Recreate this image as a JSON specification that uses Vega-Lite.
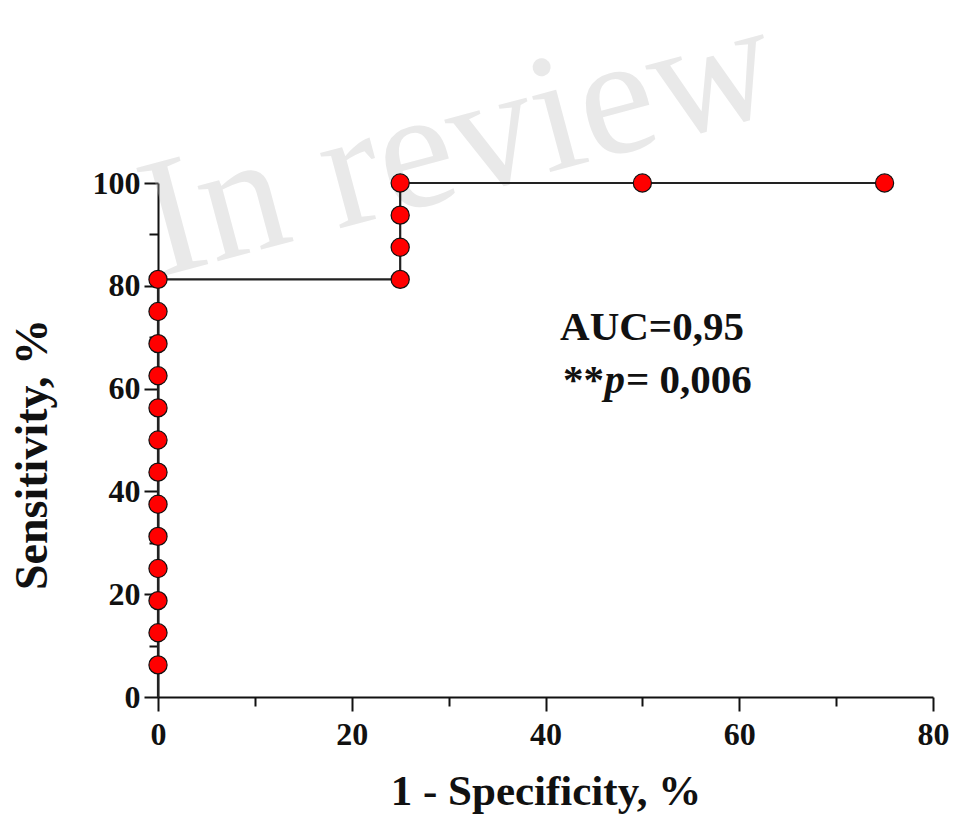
{
  "$schema": "https://vega.github.io/schema/vega-lite/v6.json",
  "width": 775,
  "height": 514,
  "autosize": "none",
  "padding": {"left": 158, "top": 183, "right": 24, "bottom": 123},
  "background": "white",
  "config": {
    "view": {"stroke": null},
    "font": "Liberation Serif",
    "axis": {
      "grid": false,
      "domainColor": "#111111",
      "domainWidth": 2,
      "tickColor": "#111111",
      "tickWidth": 2,
      "tickSize": 14,
      "labelFlush": false,
      "labelFont": "Liberation Serif",
      "labelFontWeight": "bold",
      "labelFontSize": 32,
      "labelColor": "#111111",
      "titleFont": "Liberation Serif",
      "titleFontWeight": "bold",
      "titleColor": "#111111"
    }
  },
  "datasets": {
    "roc": [
      {"fpr": 0, "sens": 0, "shown": false},
      {"fpr": 0, "sens": 6.25, "shown": true},
      {"fpr": 0, "sens": 12.5, "shown": true},
      {"fpr": 0, "sens": 18.75, "shown": true},
      {"fpr": 0, "sens": 25, "shown": true},
      {"fpr": 0, "sens": 31.25, "shown": true},
      {"fpr": 0, "sens": 37.5, "shown": true},
      {"fpr": 0, "sens": 43.75, "shown": true},
      {"fpr": 0, "sens": 50, "shown": true},
      {"fpr": 0, "sens": 56.25, "shown": true},
      {"fpr": 0, "sens": 62.5, "shown": true},
      {"fpr": 0, "sens": 68.75, "shown": true},
      {"fpr": 0, "sens": 75, "shown": true},
      {"fpr": 0, "sens": 81.25, "shown": true},
      {"fpr": 25, "sens": 81.25, "shown": true},
      {"fpr": 25, "sens": 87.5, "shown": true},
      {"fpr": 25, "sens": 93.75, "shown": true},
      {"fpr": 25, "sens": 100, "shown": true},
      {"fpr": 50, "sens": 100, "shown": true},
      {"fpr": 75, "sens": 100, "shown": true}
    ]
  },
  "layer": [
    {
      "data": {"values": [{"label": "In review"}]},
      "mark": {"type": "text", "font": "Liberation Serif", "fontSize": 170, "angle": -15, "color": "#bdbdbd", "opacity": 0.33, "align": "center", "baseline": "middle"},
      "encoding": {
        "text": {"field": "label"},
        "x": {"datum": 31.0, "type": "quantitative", "scale": {"domain": [0, 80], "nice": false}, "axis": null},
        "y": {"datum": 107.6, "type": "quantitative", "scale": {"domain": [0, 100], "nice": false}, "axis": null}
      }
    },
    {
      "data": {"name": "roc"},
      "mark": {"type": "line", "color": "#222222", "strokeWidth": 2.2, "interpolate": "linear"},
      "encoding": {
        "x": {"field": "fpr", "type": "quantitative", "scale": {"domain": [0, 80], "nice": false},
              "axis": {"orient": "bottom", "values": [0, 20, 40, 60, 80], "title": "1 - Specificity, %", "titleFontSize": 43, "labelPadding": 8, "titlePadding": 20}},
        "y": {"field": "sens", "type": "quantitative", "scale": {"domain": [0, 100], "nice": false},
              "axis": {"orient": "left", "values": [0, 20, 40, 60, 80, 100], "title": "Sensitivity, %", "titleFontSize": 46, "titleY": 271, "labelPadding": 4, "titlePadding": 36}}
      }
    },
    {
      "data": {"name": "roc"},
      "transform": [{"filter": "datum.shown"}],
      "mark": {"type": "point", "filled": true, "shape": "circle", "size": 330, "fill": "#ff0000", "stroke": "#111111", "strokeWidth": 1.2, "opacity": 1},
      "encoding": {
        "x": {"field": "fpr", "type": "quantitative", "scale": {"domain": [0, 80], "nice": false},
              "axis": {"orient": "bottom", "values": [10, 30, 50, 70], "tickSize": 9, "labels": false, "domain": false, "title": null}},
        "y": {"field": "sens", "type": "quantitative", "scale": {"domain": [0, 100], "nice": false},
              "axis": {"orient": "left", "values": [10, 30, 50, 70, 90], "tickSize": 9, "labels": false, "domain": false, "title": null}}
      }
    },
    {
      "data": {"values": [{"label": "AUC=0,95"}]},
      "mark": {"type": "text", "font": "Liberation Serif", "fontWeight": "bold", "fontSize": 41, "color": "#111111", "align": "left", "baseline": "alphabetic"},
      "encoding": {
        "text": {"field": "label"},
        "x": {"datum": 41.5, "type": "quantitative", "scale": {"domain": [0, 80], "nice": false}, "axis": null},
        "y": {"datum": 69.5, "type": "quantitative", "scale": {"domain": [0, 100], "nice": false}, "axis": null}
      }
    },
    {
      "data": {"values": [{"label": "**"}]},
      "mark": {"type": "text", "font": "Liberation Serif", "fontWeight": "bold", "fontSize": 41, "color": "#111111", "align": "left", "baseline": "alphabetic"},
      "encoding": {
        "text": {"field": "label"},
        "x": {"datum": 41.8, "type": "quantitative", "scale": {"domain": [0, 80], "nice": false}, "axis": null},
        "y": {"datum": 59.1, "type": "quantitative", "scale": {"domain": [0, 100], "nice": false}, "axis": null}
      }
    },
    {
      "data": {"values": [{"label": "p"}]},
      "mark": {"type": "text", "font": "Liberation Serif", "fontWeight": "bold", "fontStyle": "italic", "fontSize": 41, "color": "#111111", "align": "left", "baseline": "alphabetic"},
      "encoding": {
        "text": {"field": "label"},
        "x": {"datum": 46.1, "type": "quantitative", "scale": {"domain": [0, 80], "nice": false}, "axis": null},
        "y": {"datum": 59.1, "type": "quantitative", "scale": {"domain": [0, 100], "nice": false}, "axis": null}
      }
    },
    {
      "data": {"values": [{"label": "= 0,006"}]},
      "mark": {"type": "text", "font": "Liberation Serif", "fontWeight": "bold", "fontSize": 41, "color": "#111111", "align": "left", "baseline": "alphabetic"},
      "encoding": {
        "text": {"field": "label"},
        "x": {"datum": 48.3, "type": "quantitative", "scale": {"domain": [0, 80], "nice": false}, "axis": null},
        "y": {"datum": 59.1, "type": "quantitative", "scale": {"domain": [0, 100], "nice": false}, "axis": null}
      }
    }
  ],
  "resolve": {"axis": {"x": "independent", "y": "independent"}}
}
